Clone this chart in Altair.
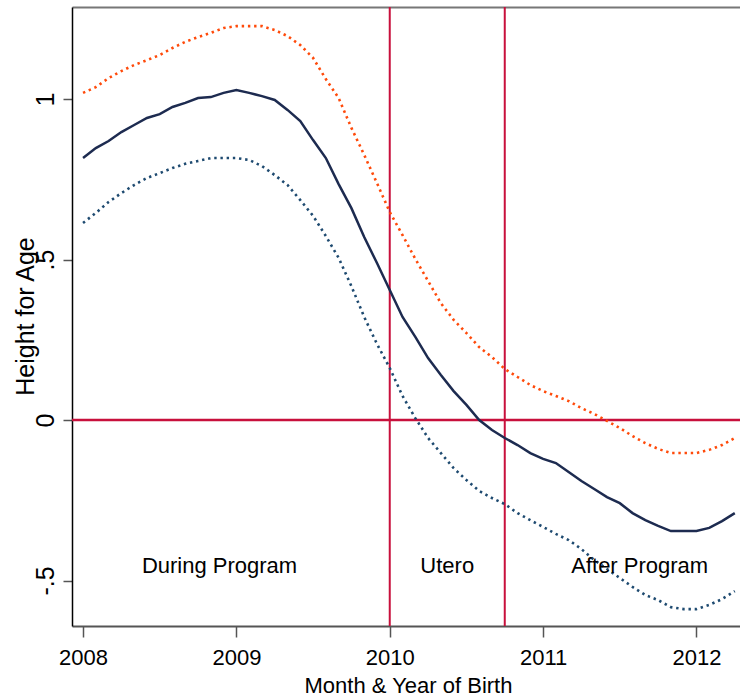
import altair as alt
import pandas as pd

# ---- data ----
month_index = list(range(52))  # Jan 2008 ... Apr 2012, monthly
upper_ci = [1.019, 1.037, 1.065, 1.087, 1.106, 1.121, 1.137, 1.159, 1.178, 1.193,
            1.206, 1.221, 1.227, 1.227, 1.227, 1.215, 1.196, 1.168, 1.128, 1.062,
            1.003, 0.910, 0.826, 0.738, 0.648, 0.576, 0.502, 0.433, 0.364, 0.312,
            0.271, 0.227, 0.196, 0.159, 0.134, 0.109, 0.090, 0.075, 0.059, 0.037,
            0.019, -0.003, -0.025, -0.050, -0.072, -0.090, -0.103, -0.103, -0.103, -0.093,
            -0.078, -0.056]
estimate = [0.816, 0.847, 0.869, 0.897, 0.919, 0.941, 0.953, 0.975, 0.988, 1.003,
            1.006, 1.019, 1.028, 1.019, 1.009, 0.997, 0.966, 0.931, 0.872, 0.816,
            0.735, 0.660, 0.570, 0.489, 0.405, 0.321, 0.259, 0.193, 0.140, 0.090,
            0.047, 0.000, -0.031, -0.056, -0.078, -0.103, -0.121, -0.134, -0.162, -0.190,
            -0.215, -0.240, -0.259, -0.290, -0.312, -0.330, -0.346, -0.346, -0.346, -0.336,
            -0.315, -0.290]
lower_ci = [0.614, 0.645, 0.679, 0.707, 0.732, 0.754, 0.769, 0.785, 0.798, 0.807,
            0.816, 0.816, 0.816, 0.810, 0.791, 0.763, 0.732, 0.685, 0.636, 0.573,
            0.505, 0.417, 0.321, 0.237, 0.162, 0.075, 0.006, -0.056, -0.103, -0.150,
            -0.187, -0.221, -0.243, -0.262, -0.290, -0.312, -0.333, -0.355, -0.374, -0.402,
            -0.436, -0.464, -0.492, -0.520, -0.545, -0.561, -0.583, -0.589, -0.589, -0.576,
            -0.558, -0.533]

x_ticks = [2008, 2009, 2010, 2011, 2012]
y_ticks = [-0.5, 0, 0.5, 1]
vlines = [2010.0, 2010.75]
hlines = [0.0]
ann_text = ["During Program", "Utero", "After Program"]
ann_x = [2008.89, 2010.375, 2011.63]
ann_y = [-0.477, -0.477, -0.477]

# ---- tables ----
xs_years = [2008 + m / 12 for m in month_index]
df_up = pd.DataFrame({"x": xs_years, "v": upper_ci})
df_est = pd.DataFrame({"x": xs_years, "v": estimate})
df_lo = pd.DataFrame({"x": xs_years, "v": lower_ci})
df_v = pd.DataFrame({"x": vlines})
df_h = pd.DataFrame({"y": hlines})
df_ann = pd.DataFrame({"t": ann_text, "x": ann_x, "y": ann_y})

NARROW = "Liberation Sans, Arial"
REG = "Liberation Sans, Arial"
RED = "#C8103C"
HSIZE = 22

xs = alt.Scale(domain=[2007.928, 2012.284], nice=False, zero=False)
ys = alt.Scale(domain=[-0.6417, 1.2866], nice=False, zero=False)

x_axis = alt.Axis(
    orient="bottom", values=x_ticks, format="d", grid=False,
    domainColor="#555555", domainWidth=2, tickColor="#555555", tickWidth=1.5,
    tickSize=11, labelFont=NARROW, labelFontSize=HSIZE, labelColor="black",
    labelBaseline="alphabetic", labelPadding=27, labelAlign="center",
    title="Month & Year of Birth", titleFont=NARROW, titleFontSize=HSIZE,
    titleFontWeight="normal", titleColor="black", titleBaseline="alphabetic",
    titleAlign="center", titleX=336, titleY=66,
)
top_axis = alt.Axis(
    orient="top", values=x_ticks, labels=False, ticks=False, grid=False,
    domainColor="#777777", domainWidth=2, title=None,
)
y_axis = alt.Axis(
    values=y_ticks, grid=False,
    labelExpr="datum.value == -0.5 ? '-.5' : datum.value == 0.5 ? '.5' : datum.value == 0 ? '0' : '1'",
    domainColor="black", domainWidth=1.5, tickColor="#555555", tickWidth=1.5,
    tickSize=9, labelFont=REG, labelFontSize=25, labelColor="black",
    labelAngle=270, labelAlign="center", labelBaseline="alphabetic", labelPadding=10,
    title="Height for Age", titleFont=REG, titleFontSize=25, titleFontWeight="normal",
    titleColor="black", titleAngle=270, titleAlign="center", titleBaseline="alphabetic",
    titleX=-39, titleY=309,
)

vrules = alt.Chart(df_v).mark_rule(color=RED, strokeWidth=2).encode(
    x=alt.X("x:Q", scale=xs, axis=None))
hrules = alt.Chart(df_h).mark_rule(color=RED, strokeWidth=2.5).encode(
    y=alt.Y("y:Q", scale=ys, axis=None))

upper = alt.Chart(df_up).mark_line(color="#FF4A0A", strokeWidth=2.6, strokeDash=[2.4, 3.8]).encode(
    x=alt.X("x:Q", scale=xs, axis=top_axis),
    y=alt.Y("v:Q", scale=ys, axis=y_axis))
est = alt.Chart(df_est).mark_line(color="#1D2B50", strokeWidth=2.5).encode(
    x=alt.X("x:Q", scale=xs, axis=x_axis),
    y=alt.Y("v:Q", scale=ys, axis=None))
lower = alt.Chart(df_lo).mark_line(color="#1E4A70", strokeWidth=2.6, strokeDash=[2.4, 3.8]).encode(
    x=alt.X("x:Q", scale=xs, axis=None),
    y=alt.Y("v:Q", scale=ys, axis=None))

ann = alt.Chart(df_ann).mark_text(font=NARROW, fontSize=HSIZE, color="black",
                                  align="center", baseline="alphabetic").encode(
    x=alt.X("x:Q", scale=xs, axis=None),
    y=alt.Y("y:Q", scale=ys, axis=None),
    text="t:N")

chart = alt.layer(vrules, hrules, upper, lower, est, ann).resolve_axis(
    x="independent", y="independent"
).properties(
    width=668, height=619,
    autosize=alt.AutoSizeParams(type="none"),
    padding={"left": 72, "top": 7, "right": 0, "bottom": 71},
    background="white",
).configure_view(stroke=None)

chart.save("out.html", embed_options={"renderer": "svg", "actions": False})
